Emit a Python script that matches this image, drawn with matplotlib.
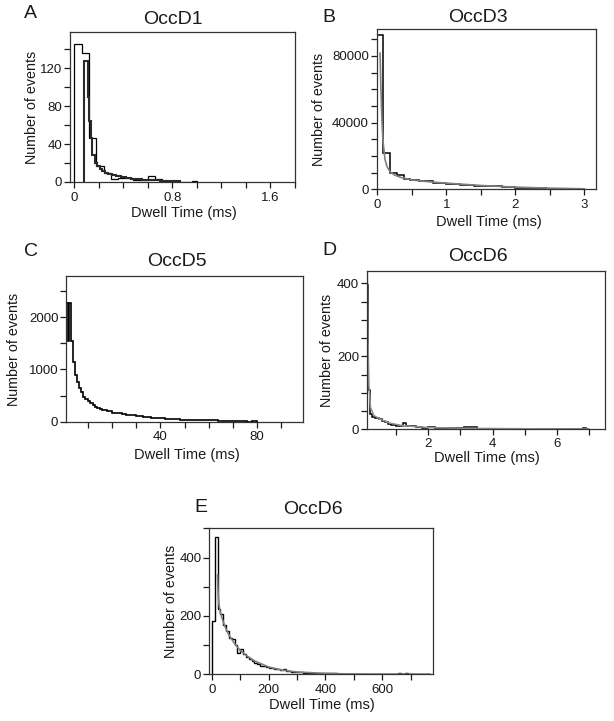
import matplotlib.pyplot as plt
from matplotlib.ticker import FixedLocator, FuncFormatter, MultipleLocator

W, H = 614, 721
plt.rcParams["font.family"] = ["Liberation Sans", "DejaVu Sans"]

# A: OccD1 -- coarse histogram (outline) and finer fitted steps
a_edges = [0, 0.062, 0.123, 0.18, 0.24, 0.30, 0.36, 0.42, 0.48, 0.54, 0.60, 0.66, 0.72,
           0.78, 0.84, 0.96, 1.0]
a_counts = [145, 136, 46, 17, 10, 3, 4, 4, 2, 2, 6, 3, 1, 1, 0, 1]
a_fit_edges = [0.083, 0.115, 0.125, 0.135, 0.15, 0.17, 0.19, 0.21, 0.23, 0.25, 0.28, 0.31,
               0.34, 0.38, 0.42, 0.46, 0.50, 0.55, 0.60, 0.65, 0.70, 0.75, 0.80, 0.86]
a_fit_counts = [127, 90, 64, 46, 28, 20, 17, 14, 12, 10, 8, 7, 6, 5, 4, 3.5, 3, 2.5, 2, 2,
                1.5, 1.5, 1]

# B: OccD3
b_edges = [0, 0.08, 0.185, 0.29, 0.38, 0.48, 0.6, 0.8, 1.0, 1.2, 1.4, 1.6, 1.8, 2.0, 2.2,
           2.45]
b_counts = [92500, 22000, 9600, 8600, 6200, 5600, 4800, 4000, 3300, 2700, 2200, 1700, 1300,
            900, 600]
b_fit_x = [0.039, 0.05, 0.065, 0.08, 0.09, 0.11, 0.14, 0.184, 0.25, 0.35, 0.5, 0.75, 1.0,
           1.5, 2.0, 2.5, 3.0]
b_fit_y = [81700, 62000, 42000, 30000, 25500, 18000, 13500, 10500, 8500, 7000, 5600, 4500,
           3700, 2300, 1300, 700, 300]

# C: OccD5
c_edges = [1.0, 1.7, 2.4, 3.1, 3.8, 4.6, 5.4, 6.2, 7.0, 8.0, 9, 10, 11, 12, 13, 14, 15, 16,
           18, 20, 22, 24, 26, 28, 30, 33, 36, 39, 42, 45, 48, 52, 56, 60, 64, 68, 72, 76,
           78, 80]
c_counts = [2260, 1550, 2260, 1550, 1150, 900, 760, 650, 560, 480, 430, 390, 350, 320, 290,
            270, 245, 215, 195, 175, 160, 145, 130, 120, 108, 95, 80, 68, 58, 50, 42, 35,
            30, 26, 22, 18, 14, 0, 8]

# D: OccD6 (ms)
d_edges = [0.08, 0.12, 0.17, 0.25, 0.35, 0.45, 0.55, 0.65, 0.75, 0.85, 1.0, 1.1, 1.2, 1.3,
           1.4, 1.6, 1.8, 2.0, 2.2, 2.5, 2.8, 3.1, 3.5, 4.0, 4.5, 5.0, 5.5, 6.0, 6.3, 6.8,
           6.9, 7.0]
d_counts = [395, 108, 42, 35, 30, 28, 22, 20, 15, 12, 8, 10, 16, 8, 8, 6, 4, 6, 4, 3, 3, 5,
            2, 2, 1, 2, 1, 2, 1, 4, 0]
d_fit_x = [0.1, 0.12, 0.15, 0.2, 0.3, 0.5, 0.8, 1.2, 2.0, 3.0, 5.0, 7.0]
d_fit_y = [430, 250, 120, 60, 38, 28, 17, 10, 5, 3, 1.5, 1]

# E: OccD6 (longer dwell times)
e_edges = [1, 10.5, 20, 30, 40, 50, 60, 70, 80, 90, 100, 111, 120, 130, 140, 150, 160, 170,
           180, 190, 200, 220, 240, 250, 262, 280, 300, 320, 340, 360, 380, 400, 412, 440,
           480, 520, 560, 600, 640, 655, 665, 680, 690, 740, 750, 768]
e_counts = [183, 469, 225, 205, 170, 150, 125, 120, 100, 72, 88, 70, 60, 52, 45, 40, 34, 30,
            27, 24, 20, 17, 14, 17, 12, 9, 7, 5, 4, 3, 3, 5, 3, 2, 2, 1, 1, 1, 0, 3, 0.5, 3,
            0.5, 0, 2]
e_fit_x = [20, 22, 25, 30, 40, 50, 60, 80, 100, 125, 150, 200, 250, 300, 400, 500, 600, 768]
e_fit_y = [340, 280, 240, 210, 180, 155, 135, 105, 82, 62, 46, 25, 14, 8, 3, 1, 0.5, 0.2]


def box(l, t, r, b):
    return [l / W, 1 - b / H, (r - l) / W, (b - t) / H]


def ftext(fig, x, y, s, **kw):
    fig.text(x / W, 1 - y / H, s, ha="center", va="center", color="#1a1a1a", **kw)


def style(ax, xlim, ylim, xmaj, xstep, ymaj, ystep, xpad=3):
    ax.set_xlim(*xlim)
    ax.set_ylim(*ylim)
    ax.xaxis.set_major_locator(FixedLocator(xmaj))
    ax.xaxis.set_minor_locator(MultipleLocator(xstep))
    ax.yaxis.set_major_locator(FixedLocator(ymaj))
    ax.yaxis.set_minor_locator(MultipleLocator(ystep))
    fmt = FuncFormatter(lambda v, _: f"{v:g}")
    ax.xaxis.set_major_formatter(fmt)
    ax.yaxis.set_major_formatter(fmt)
    ax.tick_params(which="both", direction="out", length=4, width=0.9, colors="#1a1a1a",
                   labelsize=9.5)
    ax.tick_params(axis="y", pad=1.5)
    ax.tick_params(axis="x", pad=xpad)
    for sp in ax.spines.values():
        sp.set_linewidth(0.9)
        sp.set_color("#333333")


def main():
    fig = plt.figure(figsize=(W / 100, H / 100), dpi=100)

    # A
    ax = fig.add_axes(box(70, 32, 295, 182))
    ax.stairs(a_counts, a_edges, baseline=0, color="black", lw=0.9)
    ax.stairs(a_fit_counts, a_fit_edges, baseline=0, color="#2a2a2a", lw=1.5)
    style(ax, (-0.033, 1.8), (0, 158), [0, 0.8, 1.6], 0.2, [0, 40, 80, 120], 20)

    # B
    ax = fig.add_axes(box(376.7, 29.3, 596, 189.3))
    ax.stairs(b_counts, b_edges, baseline=0, color="black", lw=1.1)
    ax.plot(b_fit_x, b_fit_y, color="#808080", lw=1.2)
    style(ax, (-0.01, 3.17), (0, 96000), [0, 1, 2, 3], 0.5, [0, 40000, 80000], 10000)

    # C
    ax = fig.add_axes(box(66, 275.7, 303, 421.7))
    ax.stairs(c_counts, c_edges, baseline=0, color="black", lw=1.2)
    style(ax, (1, 99), (0, 2790), [40, 80], 10, [0, 1000, 2000], 500)

    # D
    ax = fig.add_axes(box(366.7, 270.7, 605, 429.3))
    ax.plot(d_fit_x, d_fit_y, color="#909090", lw=1.1)
    ax.stairs(d_counts, d_edges, baseline=0, color="black", lw=1.1)
    style(ax, (0.08, 7.5), (0, 435), [2, 4, 6], 1, [0, 200, 400], 50, xpad=2)

    # E
    ax = fig.add_axes(box(209, 528.3, 433.3, 674.3))
    ax.stairs(e_counts, e_edges, baseline=0, color="black", lw=1.0)
    ax.plot(e_fit_x, e_fit_y, color="#808080", lw=1.2)
    style(ax, (-10, 780), (0, 500), [0, 200, 400, 600], 100, [0, 200, 400], 100)

    for letter, lx, ly in [("A", 30, 14), ("B", 329, 17), ("C", 31, 251), ("D", 329, 250),
                           ("E", 201, 507)]:
        ftext(fig, lx, ly, letter, fontsize=14)

    for title, tx, ty in [("OccD1", 173, 19), ("OccD3", 478, 18), ("OccD5", 177, 261),
                          ("OccD6", 478, 256), ("OccD6", 313, 509)]:
        ftext(fig, tx, ty, title, fontsize=14)

    for yx, yy in [(32, 107), (319, 109), (14, 349), (327, 350), (171, 601)]:
        ftext(fig, yx, yy, "Number of events", fontsize=10.3, rotation=90)

    for xx, xy in [(184, 213), (489, 222), (187, 455), (487, 458), (322, 705)]:
        ftext(fig, xx, xy, "Dwell Time (ms)", fontsize=10.5)

    fig.savefig("out.png", dpi=100)


if __name__ == "__main__":
    main()
